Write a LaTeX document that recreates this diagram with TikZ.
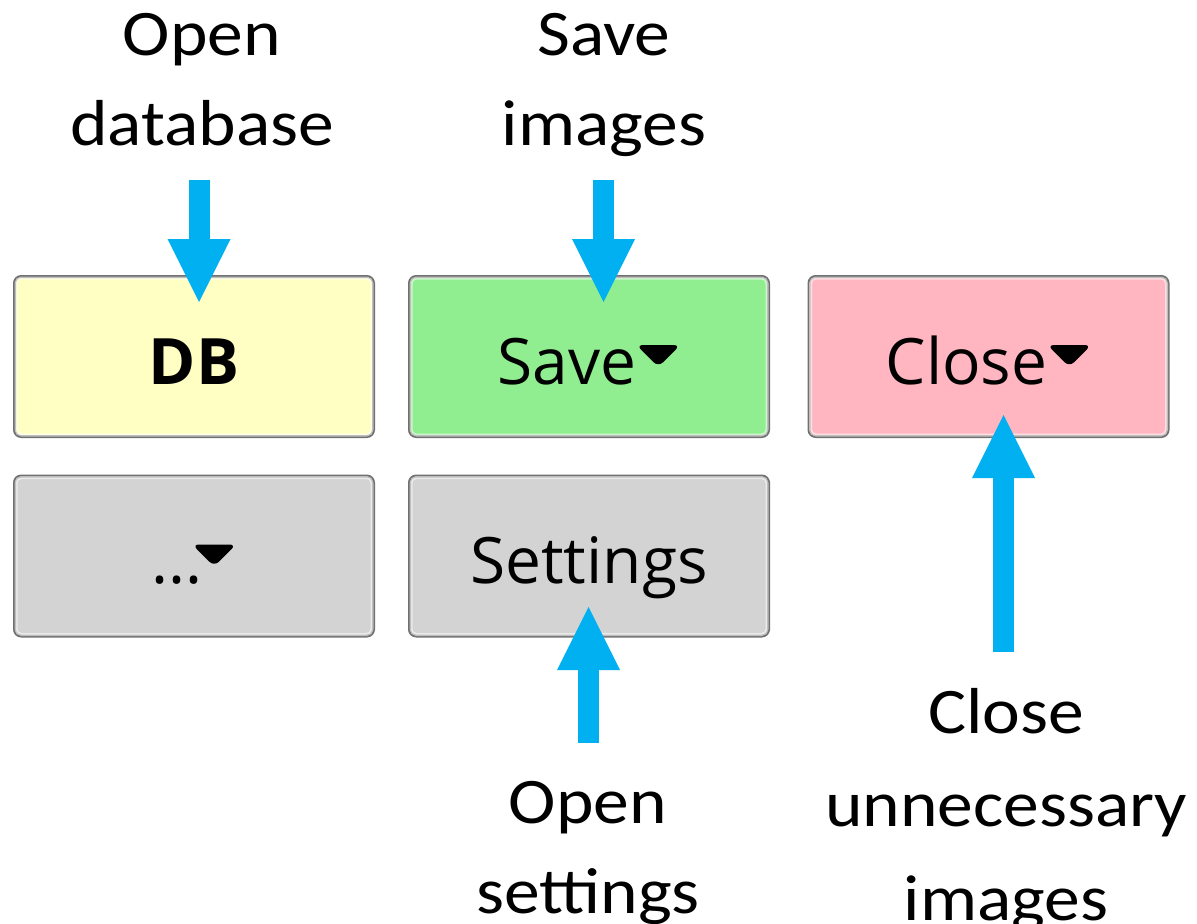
\documentclass[tikz,border=0pt]{standalone}
\usepackage{fontspec}
\usetikzlibrary{arrows.meta}
\newfontfamily\notefont[FakeStretch=1.1]{Carlito}
\newfontfamily\buttonfont{Open Sans}
\definecolor{arrowblue}{RGB}{0,176,240}
\definecolor{framegray}{RGB}{112,112,112}
\definecolor{dbyellow}{RGB}{255,255,196}
\definecolor{savegreen}{RGB}{144,238,144}
\definecolor{closepink}{RGB}{255,182,193}
\definecolor{btngray}{RGB}{211,211,211}
\newcommand{\dropmark}{\tikz[baseline=0pt]\fill (0pt,29.25pt) -- (33pt,29.25pt) -- (16.5pt,12.75pt) -- cycle;}

\tikzset{every picture/.style={line width=0.75pt}}
\tikzset{
  uibutton/.style={draw=framegray, line width=2.25pt, rounded corners=5pt,
    minimum width=269.25pt, minimum height=120pt, inner sep=0pt,
    text height=41.25pt, text depth=0pt, font=\buttonfont\fontsize{48}{58}\selectfont},
  notetext/.style={anchor=north, inner sep=0pt, align=center,
    font=\notefont\fontsize{48.75}{67.5}\selectfont},
  blockarrow/.style={draw=arrowblue, line width=15.75pt,
    -{Triangle[width=47.25pt,length=47.25pt,line width=0pt]}},
  highlight/.style={draw=white, draw opacity=0.55, line width=2.25pt, rounded corners=4pt}
}

\begin{document}
\begin{tikzpicture}[x=0.75pt,y=0.75pt,yscale=-1,xscale=1]
\useasboundingbox (0,0) rectangle (1197,924);

% Buttons
\node [uibutton, fill=dbyellow] (db) at (194,356.5) {\bfseries DB};
\node [uibutton, fill=savegreen] (save) at (589,356.5) {Save\dropmark};
\node [uibutton, fill=closepink] (close) at (988.5,356.5) {Close\dropmark};
\node [uibutton, fill=btngray] (more) at (194,556) {...\kern-8pt\dropmark};
\node [uibutton, fill=btngray] (settings) at (589,556) {Settings};
% inner light edge of the buttons
\foreach \b in {db,save,close,more,settings}
  \draw [highlight] ([shift={(3,3)}]\b.north west) rectangle ([shift={(-3,-3)}]\b.south east);

% Text Node
\node [notetext] (opendb) at (202,13) {Open\\database};
% Text Node
\node [notetext] (saveimg) at (604,13) {Save\\images};
% Text Node
\node [notetext] (opensettings) at (588,781) {Open\\settings};
% Text Node
\node [notetext] (closeimg) at (1006,688) {Close\\[2.5pt]unnecessary\\[2.5pt]images};

% Arrows
\coordinate (dbtail) at (199,180);
\coordinate (dbtip) at (199,302);
\coordinate (savetail) at (603.5,180);
\coordinate (savetip) at (603.5,302);
\coordinate (settingstail) at (588.5,743);
\coordinate (settingstip) at (588.5,607);
\coordinate (closetail) at (1003.5,652);
\coordinate (closetip) at (1003.5,415);
\draw [blockarrow] (dbtail) -- (dbtip);
\draw [blockarrow] (savetail) -- (savetip);
\draw [blockarrow] (settingstail) -- (settingstip);
\draw [blockarrow] (closetail) -- (closetip);

\end{tikzpicture}
\end{document}
